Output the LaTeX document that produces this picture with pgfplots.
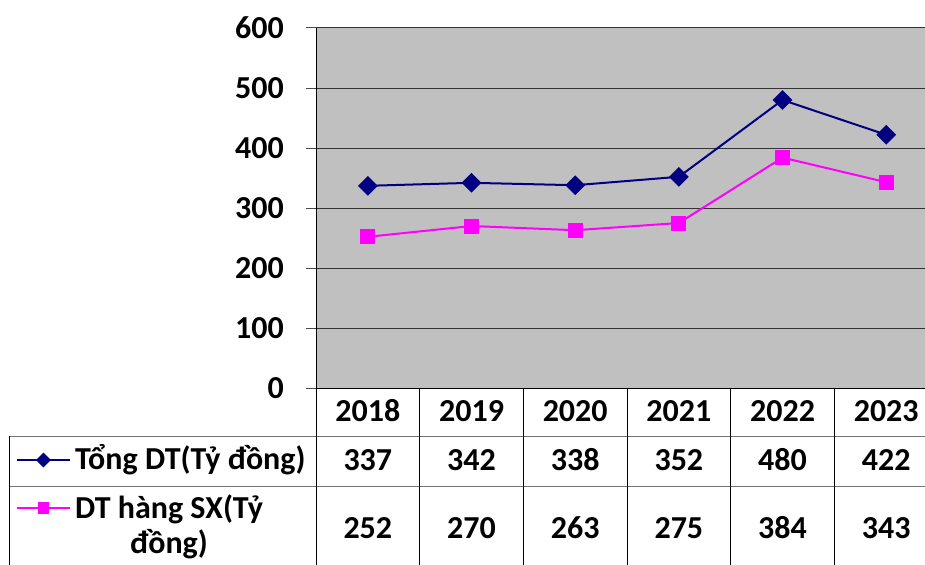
\documentclass[border=0pt]{standalone}
\usepackage{pgfplots}
\pgfplotsset{compat=1.18}
\usepackage{fontspec}
\setmainfont{Carlito}
\definecolor{navyc}{HTML}{000080}
\definecolor{magc}{HTML}{FF00FF}
\definecolor{bgc}{HTML}{C0C0C0}
\begin{document}
\begin{tikzpicture}
\begin{axis}[
  scale only axis, width=622pt, height=360pt,
  xmin=0, xmax=6, ymin=0, ymax=600,
  ytick={0,100,...,600}, xtick=\empty,
  axis background/.style={fill=bgc},
  ymajorgrids, grid style={black!80, line width=1pt},
  axis x line=bottom, axis y line=left,
  axis line style={-, black, line width=1pt},
  tick align=outside, major tick length=10pt,
  tick style={black!70, line width=1pt},
  /pgf/number format/assume math mode=true,
  yticklabel style={font=\fontsize{32}{34}\selectfont\bfseries, inner sep=0pt, xshift=-22pt},
  clip=false,
]
% data
\addplot[navyc, line width=2pt, mark=square*, mark size=6pt, mark options={rotate=45, fill=navyc}]
  coordinates {(0.5,337)(1.5,342)(2.5,338)(3.5,352)(4.5,480)(5.5,422)};
\addplot[magc, line width=2pt, mark=square*, mark size=6.5pt, mark options={fill=magc}]
  coordinates {(0.5,252)(1.5,270)(2.5,263)(3.5,275)(4.5,384)(5.5,343)};
% legend keys in the data table
\addplot[navyc, line width=1.5pt, mark=square*, mark size=4.5pt, mark indices={2}, mark options={rotate=45, fill=navyc}]
  coordinates {(-2.884,-120)(-2.629,-120)(-2.373,-120)};
\addplot[magc, line width=1.5pt, mark=square*, mark size=5pt, mark indices={2}, mark options={fill=magc}]
  coordinates {(-2.884,-200)(-2.629,-200)(-2.373,-200)};
% table grid
\draw[black!55, line width=1pt] (axis cs:-2.952,-80) -- (axis cs:6.2,-80);
\draw[black!55, line width=1pt] (axis cs:-2.952,-163.33) -- (axis cs:6.2,-163.33);
\draw[black, line width=1pt] (axis cs:0,0) -- (axis cs:0,-320);
\draw[black, line width=1pt] (axis cs:1,0) -- (axis cs:1,-320);
\draw[black, line width=1pt] (axis cs:2,0) -- (axis cs:2,-320);
\draw[black, line width=1pt] (axis cs:3,0) -- (axis cs:3,-320);
\draw[black, line width=1pt] (axis cs:4,0) -- (axis cs:4,-320);
\draw[black, line width=1pt] (axis cs:5,0) -- (axis cs:5,-320);
\draw[black, line width=1pt] (axis cs:-2.952,-80) -- (axis cs:-2.952,-320);
% table text
\tikzset{tt/.style={font=\fontsize{32}{34}\selectfont\bfseries, inner sep=0pt}}
\node[tt] at (axis cs:0.5,-38.3) {2018};
\node[tt] at (axis cs:1.5,-38.3) {2019};
\node[tt] at (axis cs:2.5,-38.3) {2020};
\node[tt] at (axis cs:3.5,-38.3) {2021};
\node[tt] at (axis cs:4.5,-38.3) {2022};
\node[tt] at (axis cs:5.5,-38.3) {2023};
\node[tt] at (axis cs:0.5,-120) {337};
\node[tt] at (axis cs:1.5,-120) {342};
\node[tt] at (axis cs:2.5,-120) {338};
\node[tt] at (axis cs:3.5,-120) {352};
\node[tt] at (axis cs:4.5,-120) {480};
\node[tt] at (axis cs:5.5,-120) {422};
\node[tt] at (axis cs:0.5,-233) {252};
\node[tt] at (axis cs:1.5,-233) {270};
\node[tt] at (axis cs:2.5,-233) {263};
\node[tt] at (axis cs:3.5,-233) {275};
\node[tt] at (axis cs:4.5,-233) {384};
\node[tt] at (axis cs:5.5,-233) {343};
\node[tt, anchor=west] at (axis cs:-2.325,-120) {Tổng DT(Tỷ đồng)};
\node[tt, anchor=west] at (axis cs:-2.325,-202) {DT hàng SX(Tỷ};
\node[tt] at (axis cs:-1.418,-260) {đồng)};
\coordinate (bl) at (axis cs:-3.048,-293.33);
\coordinate (tr) at (axis cs:5.874,646.67);
\end{axis}
\pgfresetboundingbox
\useasboundingbox (bl) rectangle (tr);
\end{tikzpicture}
\end{document}
